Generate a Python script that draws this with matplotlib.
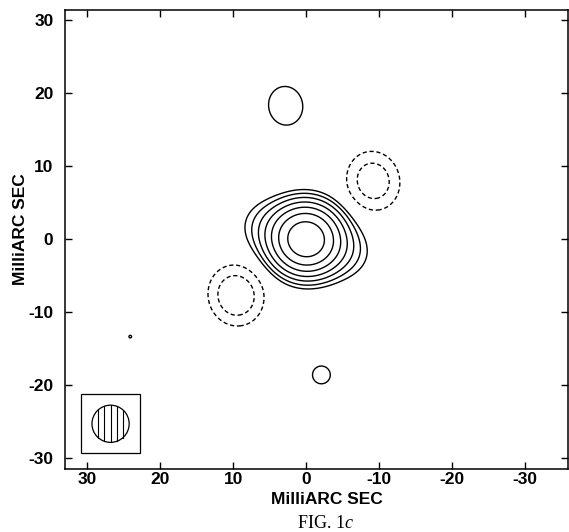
import numpy as np
import matplotlib
matplotlib.use("Agg")
import matplotlib.pyplot as plt
from matplotlib.patches import Rectangle, Circle

# ---- model components of the map (mas offsets, amplitude in units of lowest contour) ----
comp_x = [0.0, 0.0, 2.8, -2.1, 24.1, 9.6, -9.2]
comp_y = [0.0, 0.0, 18.3, -18.6, -13.35, -7.7, 8.0]
comp_amp = [98.0, 17.0, 1.8, 1.15, 1.003, -3.3, -2.95]
comp_sig_minor = [2.2, 2.2, 2.15, 2.3, 2.3, 2.47, 2.46]
comp_sig_major = [2.2, 3.6, 2.45, 2.3, 2.3, 2.73, 2.77]
comp_pa = [0.0, 72.0, 10.0, 0.0, 0.0, 15.0, 15.0]

pos_levels = [1, 2, 4, 8, 16, 32, 64]
neg_levels = [-2, -1]

# restoring beam (mas)
beam_diam = 5.1
beam_center = (26.8, -25.3)
beam_box = 8.1
n_hatch = 5

x_ticks = [30, 20, 10, 0, -10, -20, -30]
y_ticks = [-30, -20, -10, 0, 10, 20, 30]
x_lim = (33.1, -35.9)
y_lim = (-31.5, 31.5)

plt.rcParams["lines.scale_dashes"] = False
plt.rcParams["mathtext.fontset"] = "custom"
plt.rcParams["mathtext.it"] = "Liberation Serif:italic"
plt.rcParams["mathtext.rm"] = "Liberation Serif"

gx = np.arange(-37.0, 34.0, 0.04)
gy = np.arange(-32.0, 32.0, 0.04)
X, Y = np.meshgrid(gx, gy)
Z = np.zeros_like(X)
for cx, cy, a, smin, smaj, pa in zip(comp_x, comp_y, comp_amp, comp_sig_minor, comp_sig_major, comp_pa):
    t = np.deg2rad(pa)
    dx = X - cx
    dy = Y - cy
    v = dx * np.sin(t) + dy * np.cos(t)
    u = dx * np.cos(t) - dy * np.sin(t)
    Z += a * np.exp(-u**2 / (2 * smin**2) - v**2 / (2 * smaj**2))

fig = plt.figure(figsize=(5.69, 5.32), dpi=100)
ax = fig.add_axes([64.6 / 569, 1 - 469 / 532, (568 - 64.6) / 569, (469 - 9.5) / 532])

ax.contour(X, Y, Z, levels=pos_levels, colors="black", linewidths=1.0, linestyles="solid")
ax.contour(X, Y, Z, levels=neg_levels, colors="black", linewidths=1.0, linestyles=[(0, (3.0, 2.0))])

# beam inset
bx, by = beam_center
ax.add_patch(Rectangle((bx - beam_box / 2, by - beam_box / 2), beam_box, beam_box,
                       fill=False, edgecolor="black", linewidth=0.9))
r = beam_diam / 2
ax.add_patch(Circle((bx, by), r, fill=False, edgecolor="black", linewidth=0.9))
d = beam_diam / (n_hatch + 1)
for k in range(n_hatch):
    off = -r + d * (k + 1)
    h = np.sqrt(r**2 - off**2)
    ax.plot([bx + off, bx + off], [by - h, by + h], color="black", lw=0.8)

ax.set_xlim(*x_lim)
ax.set_ylim(*y_lim)
ax.set_xticks(x_ticks)
ax.set_yticks(y_ticks)
ax.set_xticklabels([str(v) for v in x_ticks])
ax.set_yticklabels([str(v) for v in y_ticks])
ax.tick_params(direction="in", length=5, width=1.0, top=True, right=True,
               labelsize=12.5)
ax.tick_params(axis="x", pad=2.5)
ax.tick_params(axis="y", pad=8)
for lab in ax.get_xticklabels() + ax.get_yticklabels():
    lab.set_fontfamily("Liberation Sans")
    lab.set_fontweight("bold")
for s in ax.spines.values():
    s.set_linewidth(1.1)

fig.text(326.5 / 569, 1 - 500 / 532, "MilliARC SEC", ha="center", va="center",
         fontfamily="Liberation Sans", fontweight="bold", fontsize=12.5)
fig.text(21 / 569, 1 - 229 / 532, "MilliARC SEC", ha="center", va="center", rotation=90,
         fontfamily="Liberation Sans", fontweight="bold", fontsize=12.5)
fig.text(325.5 / 569, 1 - 523 / 532, r"FIG. 1$\mathit{c}$", ha="center", va="center",
         fontfamily="Liberation Serif", fontsize=13)

fig.savefig("out.png", dpi=100)
